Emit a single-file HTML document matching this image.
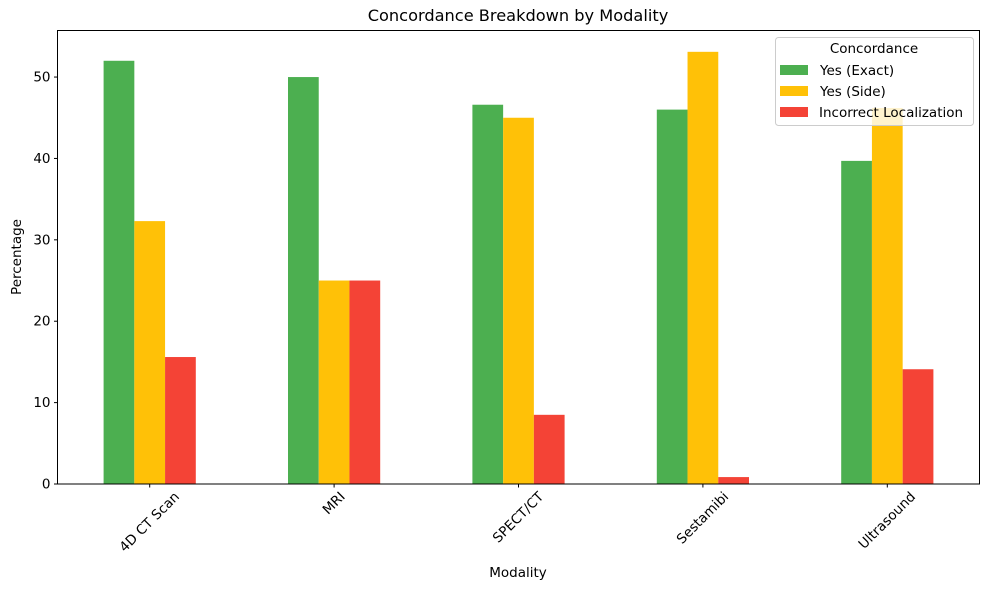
<!DOCTYPE html>
<html><head><meta charset="utf-8"><style>
body{margin:0;background:#fff}
svg{display:block;font-family:"DejaVu Sans","Liberation Sans",sans-serif}
</style></head><body>
<svg id="chart" width="989" height="590">
<text x="518" y="21" font-size="16.2" text-anchor="middle">Concordance Breakdown by Modality</text>
<text x="518" y="577" font-size="13.5" text-anchor="middle">Modality</text>
<text transform="translate(21,257) rotate(-90)" font-size="13.5" text-anchor="middle">Percentage</text>
<g id="bars"></g><g id="yticks"></g><g id="xticks"></g>
<rect x="57.5" y="30.5" width="922" height="453.5" fill="none" stroke="#000" stroke-width="1"/>
<g>
<rect x="775.5" y="37.5" width="198" height="88" rx="3" fill="#fff" fill-opacity="0.8" stroke="#ccc"/>
<text x="874" y="53" font-size="13.5" text-anchor="middle">Concordance</text>
<rect x="780" y="65" width="28" height="10" fill="#4caf50"/>
<text x="820" y="75" font-size="13.5">Yes (Exact)</text>
<rect x="780" y="86" width="28" height="10" fill="#ffc107"/>
<text x="820" y="96" font-size="13.5">Yes (Side)</text>
<rect x="780" y="107" width="28" height="10" fill="#f44336"/>
<text x="819" y="117" font-size="13.5">Incorrect Localization</text>
</g>
</svg>
<script>
const categories = ["4D CT Scan","MRI","SPECT/CT","Sestamibi","Ultrasound"];
const exactValues = [52.0, 50.0, 46.6, 46.0, 39.7];
const sideValues = [32.3, 25.0, 45.0, 53.1, 46.2];
const incorrectValues = [15.6, 25.0, 8.5, 0.85, 14.1];
const yTicks = [0,10,20,30,40,50];

const NS="http://www.w3.org/2000/svg";
const X0=57.5,X1=979.5,Y0=484,YTOP=30.5,YMAX=55.72;
const step=(X1-X0)/categories.length;
function xScale(i){return X0+step*(i+0.5);}
function yScale(v){return Y0-(v/YMAX)*(Y0-YTOP);}
function mk(tag,attrs,parent){const e=document.createElementNS(NS,tag);for(const k in attrs)e.setAttribute(k,attrs[k]);parent.appendChild(e);return e;}
const bars=document.getElementById('bars');
const series=[[exactValues,"#4caf50","exact"],[sideValues,"#ffc107","side"],[incorrectValues,"#f44336","incorrect"]];
const bw=step/6;
series.forEach((s,si)=>{
  s[0].forEach((v,i)=>{
    const x=xScale(i)+(si-1.5)*bw;
    const r=mk('rect',{x:x,y:yScale(v),width:bw,height:Y0-yScale(v),fill:s[1]},bars);
    
    
  });
});
const yt=document.getElementById('yticks');
yTicks.forEach(t=>{
  const y=yScale(t);
  const l=mk('line',{x1:X0-3.5,x2:X0,y1:y,y2:y,stroke:'#000'},yt);
  
  
  const tx=mk('text',{x:X0-7,y:y+4.5,'font-size':13.5,'text-anchor':'end'},yt);
  tx.textContent=t;
  
  
});
const xt=document.getElementById('xticks');
categories.forEach((c,i)=>{
  const x=xScale(i);
  const l=mk('line',{x1:x,x2:x,y1:Y0,y2:Y0+3.5,stroke:'#000'},xt);
  
  
  const tx=mk('text',{'font-size':13.5,'text-anchor':'middle','dominant-baseline':'central'},xt);
  tx.textContent=c;
  
  
  const w=tx.getComputedTextLength();
  const cy=Y0+6+(w+13)*0.3536;
  tx.setAttribute('x',x);tx.setAttribute('y',cy);
  tx.setAttribute('transform','rotate(-45 '+x+' '+cy+')');
});
</script>
</body></html>
